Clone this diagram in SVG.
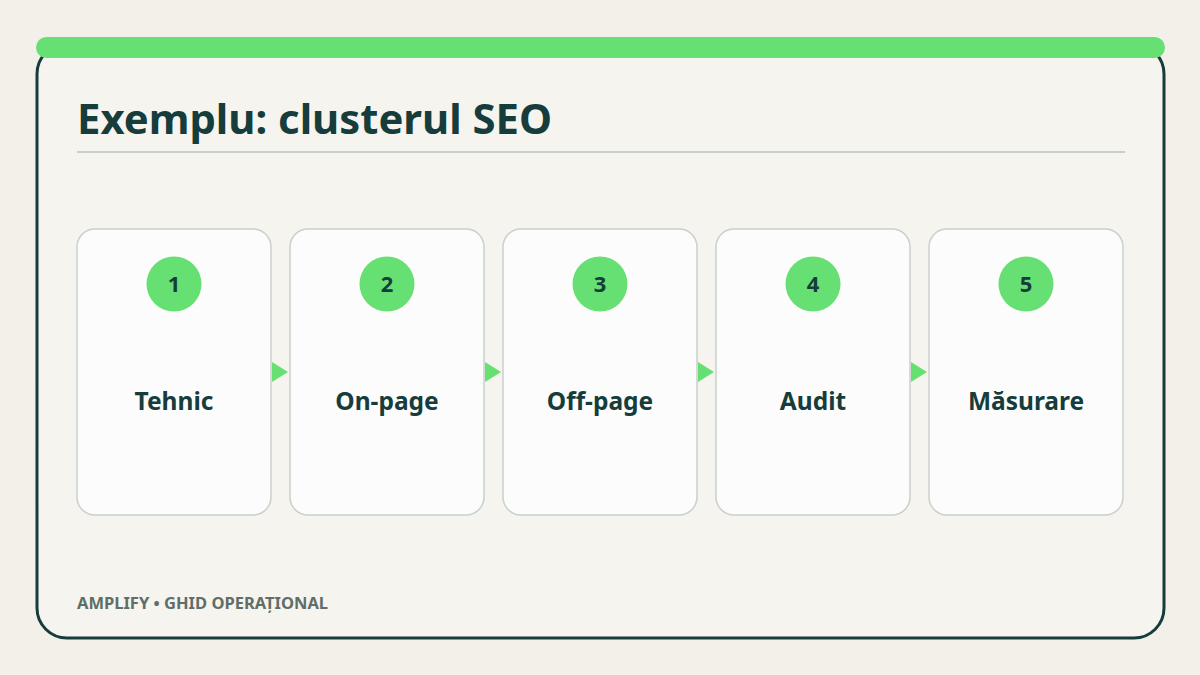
<svg xmlns="http://www.w3.org/2000/svg" width="1200" height="675" viewBox="0 0 1200 675">
<style>
.card{fill:#fbfcfb;stroke:#c9d0cb;stroke-width:1.5}
.badge{fill:#66e073}
.num{font-family:"Noto Sans","Open Sans",sans-serif;font-weight:700;font-size:22px;fill:#163c3c;text-anchor:middle}
.lbl{font-family:"Noto Sans","Open Sans",sans-serif;font-weight:700;font-size:24.5px;fill:#163c3c;text-anchor:middle}
.arr{fill:#66e073}
</style>
<rect width="1200" height="675" fill="#f2f0e9"/>
<rect x="37" y="44" width="1127" height="594" rx="30" fill="#f5f4ee" stroke="#163c3c" stroke-width="3"/>
<rect x="36" y="37" width="1129" height="21" rx="10.5" fill="#66e073"/>
<text x="77" y="134" font-family="'Noto Sans','Open Sans',sans-serif" font-weight="700" font-size="41.8" fill="#163c3c">Exemplu: clusterul SEO</text>
<line x1="77" y1="152" x2="1125" y2="152" stroke="#c9d0cb" stroke-width="2"/>
<g id="connectors">
<polygon class="arr" points="272,362 288,372 272,382"/>
<polygon class="arr" points="485,362 501,372 485,382"/>
<polygon class="arr" points="698,362 714,372 698,382"/>
<polygon class="arr" points="911,362 927,372 911,382"/>
</g>
<g id="node1"><rect class="card" x="77" y="229" width="194" height="286" rx="18"/><circle class="badge" cx="174" cy="284" r="27.5"/><text class="num" x="174" y="292">1</text><text class="lbl" x="174" y="410">Tehnic</text></g>
<g id="node2"><rect class="card" x="290" y="229" width="194" height="286" rx="18"/><circle class="badge" cx="387" cy="284" r="27.5"/><text class="num" x="387" y="292">2</text><text class="lbl" x="387" y="410">On-page</text></g>
<g id="node3"><rect class="card" x="503" y="229" width="194" height="286" rx="18"/><circle class="badge" cx="600" cy="284" r="27.5"/><text class="num" x="600" y="292">3</text><text class="lbl" x="600" y="410">Off-page</text></g>
<g id="node4"><rect class="card" x="716" y="229" width="194" height="286" rx="18"/><circle class="badge" cx="813" cy="284" r="27.5"/><text class="num" x="813" y="292">4</text><text class="lbl" x="813" y="410">Audit</text></g>
<g id="node5"><rect class="card" x="929" y="229" width="194" height="286" rx="18"/><circle class="badge" cx="1026" cy="284" r="27.5"/><text class="num" x="1026" y="292">5</text><text class="lbl" x="1026" y="410">Măsurare</text></g>
<text x="77" y="609" font-family="'Noto Sans','Open Sans',sans-serif" font-weight="700" font-size="16.5" fill="#5f6e69">AMPLIFY • GHID OPERAȚIONAL</text>
</svg>
